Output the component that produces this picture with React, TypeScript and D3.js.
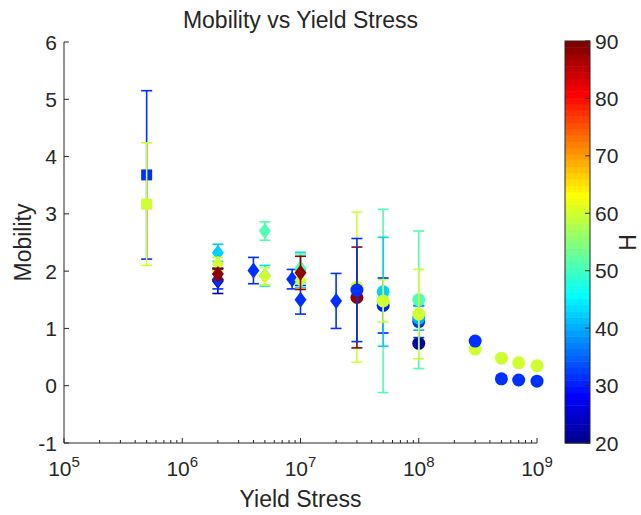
import React from "react";
import * as d3 from "d3";

// ---- data ----
// square markers
const squareStress = [5e5, 5e5];
const squareMobility = [3.68, 3.17];
const squareError = [1.47, 1.07];
const squareH = [31, 60];

// diamond markers (drawn in this order)
const diamondStress = [2e6, 2e6, 2e6, 2e6, 2e6, 4e6, 5e6, 5e6, 5e6, 8.5e6, 1e7, 1e7, 1e7, 1e7, 1e7, 2e7];
const diamondMobility = [1.83, 1.86, 2.32, 2.12, 1.95, 2.01, 2.7, 1.92, 1.91, 1.86, 1.5, 2.02, 2.05, 1.84, 1.97, 1.48];
const diamondError = [0.22, 0.17, 0.15, 0.12, 0.1, 0.23, 0.16, 0.18, 0.15, 0.17, 0.25, 0.31, 0.25, 0.15, 0.29, 0.48];
const diamondH = [24, 31, 42, 60, 88, 31, 51, 44, 60, 31, 31, 44, 51, 60, 88, 31];

// circle markers (drawn in this order)
const circleStress = [3e7, 3e7, 3e7, 5e7, 5e7, 5e7, 5e7, 1e8, 1e8, 1e8, 1e8, 1e8, 3e8, 3e8, 5e8, 5e8, 7e8, 7e8, 1e9, 1e9];
const circleMobility = [1.72, 1.54, 1.67, 1.48, 1.4, 1.64, 1.48, 0.74, 1.12, 1.18, 1.5, 1.25, 0.64, 0.78, 0.48, 0.12, 0.4, 0.1, 0.35, 0.08];
const circleError = [1.31, 0.88, 0.9, 1.6, 0.48, 0.95, 0.37, 0, 0.28, 0.21, 1.2, 0.78, 0, 0, 0, 0.05, 0, 0, 0, 0];
const circleH = [60, 88, 31, 51, 30, 42, 60, 23, 31, 40, 51, 60, 60, 31, 60, 31, 60, 31, 60, 31];

const yTicks = [-1, 0, 1, 2, 3, 4, 5, 6];
const xDecades = [5, 6, 7, 8, 9];
const colorTicks = [20, 30, 40, 50, 60, 70, 80, 90];

// ---- layout ----
const W = 641;
const H = 515;
const left = 64;
const right = 537;
const top = 42;
const bottom = 443;
const cbLeft = 565;
const cbRight = 590;
const hMin = 20;
const hMax = 90;
const levels = 64;
const font = "'Liberation Sans', Arial, Helvetica, sans-serif";
const ink = "#262626";
const tickFont = 21;
const labelFont = 23;

const x = d3.scaleLog().domain([1e5, 1e9]).range([left, right]);
const y = d3.scaleLinear().domain([-1, 6]).range([bottom, top]);
const cy = d3.scaleLinear().domain([hMin, hMax]).range([bottom, top - 1]);

const clamp01 = (v: number) => Math.max(0, Math.min(1, v));
// MATLAB-style jet colormap entry (1-based index of `levels`)
function jetLevel(i: number): string {
  const t = i / levels;
  const r = clamp01(1.5 - Math.abs(4 * t - 3));
  const g = clamp01(1.5 - Math.abs(4 * t - 2));
  const b = clamp01(1.5 - Math.abs(4 * t - 1));
  return d3.rgb(r * 255, g * 255, b * 255).formatHex();
}
function colorOf(h: number): string {
  const idx = Math.min(levels - 1, Math.max(0, Math.floor(((h - hMin) / (hMax - hMin)) * levels)));
  return jetLevel(idx + 1);
}

type Shape = "square" | "diamond" | "circle";

function Marker({ shape, cx, cyy, fill }: { shape: Shape; cx: number; cyy: number; fill: string }) {
  if (shape === "square") return <rect x={cx - 5.5} y={cyy - 5.5} width={11} height={11} fill={fill} />;
  if (shape === "circle") return <circle cx={cx} cy={cyy} r={6.5} fill={fill} />;
  const hw = 6;
  const hh = 8;
  return <path d={`M${cx},${cyy - hh}L${cx + hw},${cyy}L${cx},${cyy + hh}L${cx - hw},${cyy}Z`} fill={fill} />;
}

function ErrorPoint({ shape, sx, m, e, h }: { shape: Shape; sx: number; m: number; e: number; h: number }) {
  const px = x(sx);
  const col = colorOf(h);
  const y1 = y(m + e);
  const y0 = y(m - e);
  return (
    <g>
      {e > 0 && (
        <g stroke={col} strokeWidth={1.6} fill="none">
          <line x1={px} x2={px} y1={y1} y2={y0} />
          <line x1={px - 5.5} x2={px + 5.5} y1={y1} y2={y1} />
          <line x1={px - 5.5} x2={px + 5.5} y1={y0} y2={y0} />
        </g>
      )}
      <Marker shape={shape} cx={px} cyy={y(m)} fill={col} />
    </g>
  );
}

export default function App() {
  const minorTicks: number[] = [];
  for (let d = 5; d < 9; d++) for (let k = 2; k <= 9; k++) minorTicks.push(k * Math.pow(10, d));

  const cbStep = (hMax - hMin) / levels;
  const cbLevels = d3.range(levels);

  return (
    <svg
      width={W}
      height={H}
      style={{ position: "absolute", left: 0, top: 0, background: "#fff" }}
      fontFamily={font}
    >
      <rect x={0} y={0} width={W} height={H} fill="#fff" />

      {/* title */}
      <text x={(left + right) / 2} y={28} textAnchor="middle" fontSize={labelFont} fill={ink}>
        Mobility vs Yield Stress
      </text>

      {/* axes */}
      <g stroke={ink} strokeWidth={1} fill="none">
        <line x1={left} x2={left} y1={top} y2={bottom} />
        <line x1={left} x2={right} y1={bottom} y2={bottom} />
        {yTicks.map((t) => (
          <line key={"yt" + t} x1={left} x2={left + 5} y1={y(t)} y2={y(t)} />
        ))}
        {xDecades.map((d) => (
          <line key={"xt" + d} x1={x(Math.pow(10, d))} x2={x(Math.pow(10, d))} y1={bottom} y2={bottom - 5} />
        ))}
        {minorTicks.map((v) => (
          <line key={"mt" + v} x1={x(v)} x2={x(v)} y1={bottom} y2={bottom - 3} />
        ))}
      </g>

      {yTicks.map((t) => (
        <text key={"yl" + t} x={left - 7} y={y(t) + 7.5} textAnchor="end" fontSize={tickFont} fill={ink}>
          {t}
        </text>
      ))}
      {xDecades.map((d) => (
        <text key={"xl" + d} x={x(Math.pow(10, d))} y={476} textAnchor="middle" fontSize={tickFont} fill={ink}>
          10
          <tspan dy={-9} fontSize={15}>
            {d}
          </tspan>
        </text>
      ))}

      <text x={(left + right) / 2} y={507} textAnchor="middle" fontSize={labelFont} fill={ink}>
        Yield Stress
      </text>
      <text transform={`translate(31,${(top + bottom) / 2}) rotate(-90)`} textAnchor="middle" fontSize={labelFont} fill={ink}>
        Mobility
      </text>

      {/* data */}
      {squareStress.map((s, i) => (
        <ErrorPoint key={"s" + i} shape="square" sx={s} m={squareMobility[i]} e={squareError[i]} h={squareH[i]} />
      ))}
      {diamondStress.map((s, i) => (
        <ErrorPoint key={"d" + i} shape="diamond" sx={s} m={diamondMobility[i]} e={diamondError[i]} h={diamondH[i]} />
      ))}
      {circleStress.map((s, i) => (
        <ErrorPoint key={"c" + i} shape="circle" sx={s} m={circleMobility[i]} e={circleError[i]} h={circleH[i]} />
      ))}

      {/* colorbar */}
      {cbLevels.map((i) => {
        const y0 = cy(hMin + i * cbStep);
        const y1 = cy(hMin + (i + 1) * cbStep);
        return (
          <rect key={"cb" + i} x={cbLeft} y={y1} width={cbRight - cbLeft} height={y0 - y1 + 0.5} fill={jetLevel(i + 1)} />
        );
      })}
      <rect
        x={cbLeft}
        y={cy(hMax)}
        width={cbRight - cbLeft}
        height={cy(hMin) - cy(hMax)}
        fill="none"
        stroke={ink}
        strokeWidth={1}
      />
      <g stroke={ink} strokeWidth={1}>
        {colorTicks.map((t) => (
          <line key={"ct" + t} x1={cbRight} x2={cbRight - 5} y1={cy(t)} y2={cy(t)} />
        ))}
      </g>
      {colorTicks.map((t) => (
        <text key={"cl" + t} x={cbRight + 5} y={cy(t) + 7.5} fontSize={tickFont} fill={ink}>
          {t}
        </text>
      ))}
      <text transform={`translate(635.5,${(top + bottom) / 2}) rotate(-90)`} textAnchor="middle" fontSize={labelFont} fill={ink}>
        H
      </text>
    </svg>
  );
}
